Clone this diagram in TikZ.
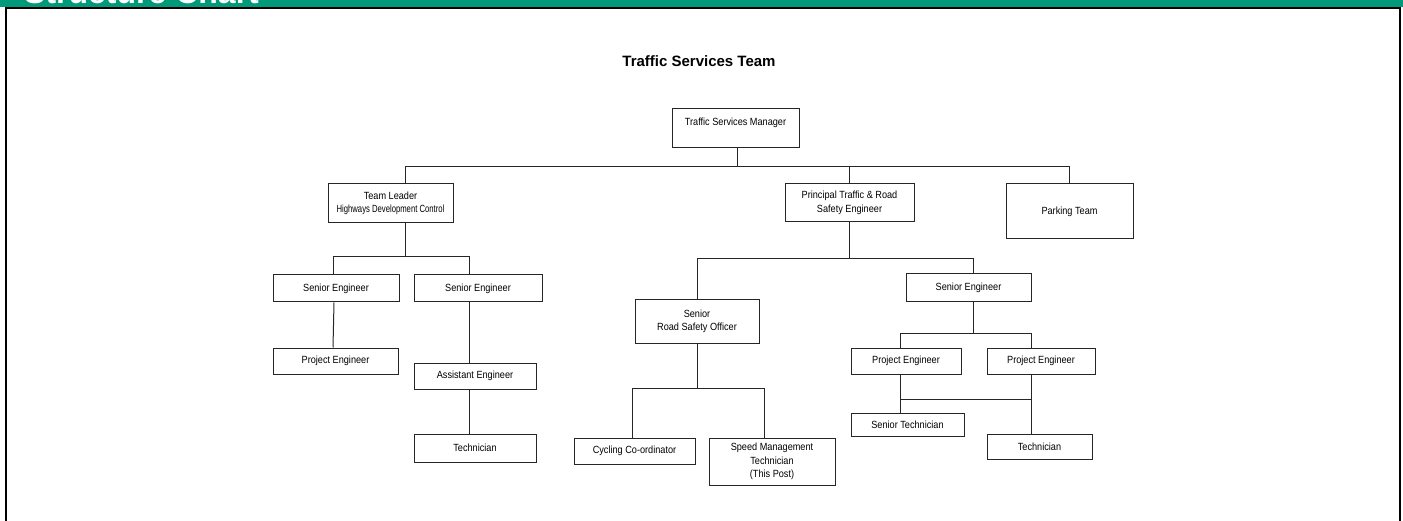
\documentclass[tikz,border=0pt]{standalone}
\usepackage{fontspec}
\setmainfont{Liberation Sans}
\newfontfamily\boxfont[FakeStretch=0.88]{Liberation Sans}
\newfontfamily\tightfont[FakeStretch=0.74]{Liberation Sans}
\definecolor{headgreen}{RGB}{0,153,122}

\begin{document}
\begin{tikzpicture}[x=1pt,y=-1pt,
post/.style={draw=black!85, line width=1pt, inner sep=0pt, align=center,
  font=\boxfont\fontsize{10.4}{13.5}\selectfont},
link/.style={draw=black!85, line width=1pt},
]
\useasboundingbox (0,0) rectangle (1403,521);

% header bar and frame
\fill[headgreen] (0,0) rectangle (1403,7);
\begin{scope}
\clip (0,0) rectangle (1403,6.8);
\node[anchor=base west, inner sep=0pt, text=white, font=\bfseries\fontsize{32}{32}\selectfont] (head) at (24,4) {Structure Chart};
\end{scope}
\draw[line width=2.2pt] (5.9,521) -- (5.9,7.9) -- (1400.1,7.9) -- (1400.1,521);

\node[anchor=base, inner sep=0pt, font=\bfseries\fontsize{15}{15}\selectfont] (title) at (699,67) {Traffic Services Team};

% level 1 and 2
\node[post, minimum width=127, minimum height=39] (tsm) at (735.5,128.5) {Traffic Services Manager\\ ~};
\node[post, minimum width=125, minimum height=39] (tl) at (390.5,203.5) {Team Leader\\{\tightfont Highways Development Control}};
\node[post, minimum width=129, minimum height=38] (ptr) at (849.5,203) {Principal Traffic \& Road\\Safety Engineer};
\node[post, minimum width=127, minimum height=55] (park) at (1069.5,211.5) {Parking Team};

% highways development control
\node[post, minimum width=126, minimum height=27] (se1) at (336,288.5) {Senior Engineer};
\node[post, minimum width=128, minimum height=27] (se2) at (478,288.5) {Senior Engineer};
\node[post, minimum width=125, minimum height=26] (pe1) at (335.5,361) {Project Engineer};
\node[post, minimum width=122, minimum height=26] (ae) at (475,376) {Assistant Engineer};
\node[post, minimum width=122, minimum height=28] (tech1) at (475,448) {Technician};

% road safety
\node[post, minimum width=124, minimum height=43] (srso) at (697,321.5) {Senior\\Road Safety Officer};
\node[post, minimum width=121, minimum height=26] (cyc) at (634.5,451) {Cycling Co-ordinator};
\node[post, minimum width=126, minimum height=47] (speed) at (772,461.5) {Speed Management\\Technician\\(This Post)};

% traffic engineering
\node[post, minimum width=125, minimum height=28] (se3) at (968.5,288) {Senior Engineer};
\node[post, minimum width=110, minimum height=26] (pe2) at (906,361) {Project Engineer};
\node[post, minimum width=108, minimum height=26] (pe3) at (1041,361) {Project Engineer};
\node[post, minimum width=113, minimum height=23] (stech) at (907.5,424.5) {Senior Technician};
\node[post, minimum width=105, minimum height=25] (tech2) at (1039.5,446.5) {Technician};

% connectors
\draw[link] ([xshift=1.5pt]tsm.south) -- ++(0,18) coordinate (bus);
\draw[link] ([xshift=14.5pt]tl.north) |- (bus) -| ([xshift=-0.5pt]park.north);
\draw[link] (ptr.north) -- (ptr.north |- bus);

\draw[link] ([xshift=14.5pt]tl.south) -- ++(0,33) coordinate (hdc);
\draw[link] ([xshift=-3pt]se1.north) |- (hdc) -| ([xshift=-9pt]se2.north);
\draw[link] ([xshift=-2pt]se1.south) -- ([xshift=-2.5pt]pe1.north);
\draw[link] ([xshift=-9pt]se2.south) -- ([xshift=-6pt]ae.north);
\draw[link] ([xshift=-6pt]ae.south) -- ([xshift=-6pt]tech1.north);

\draw[link] (ptr.south) -- ++(0,36) coordinate (rs);
\draw[link] (srso.north) |- (rs) -| ([xshift=4.5pt]se3.north);

\draw[link] (srso.south) -- ++(0,45) coordinate (sro);
\draw[link] ([xshift=-2.5pt]cyc.north) |- (sro) -| ([xshift=-8pt]speed.north);

\draw[link] ([xshift=4.5pt]se3.south) -- ++(0,31) coordinate (te);
\draw[link] ([xshift=-6pt]pe2.north) |- (te) -| ([xshift=-10pt]pe3.north);
\draw[link] ([xshift=-6pt]pe2.south) -- ++(0,25) -| ([xshift=-10pt]pe3.south);
\draw[link] ([xshift=-6pt]pe2.south) -- ([xshift=-7.5pt]stech.north);
\draw[link] ([xshift=-10pt]pe3.south) -- ([xshift=-8.5pt]tech2.north);
\end{tikzpicture}
\end{document}
